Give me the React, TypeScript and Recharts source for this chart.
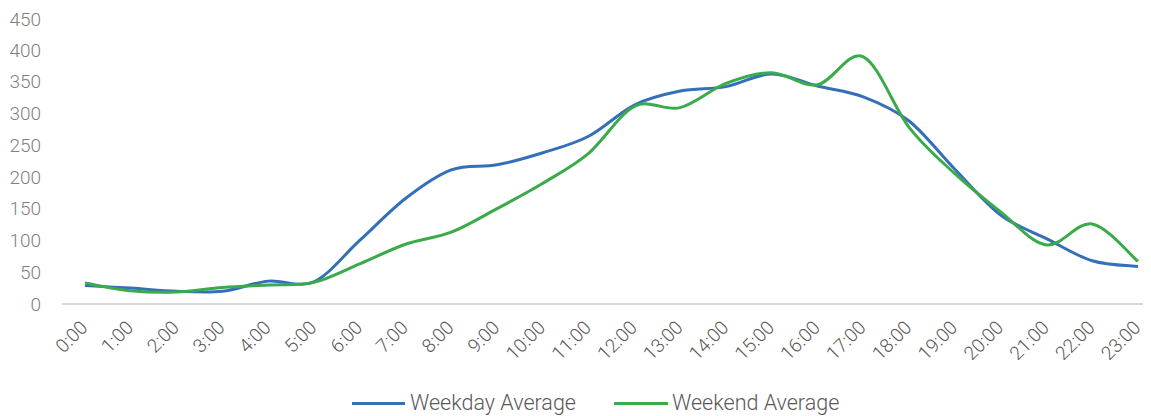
import React from "react";
import { LineChart, Line, XAxis, YAxis, Legend } from "recharts";

const hours = [
  "0:00", "1:00", "2:00", "3:00", "4:00", "5:00", "6:00", "7:00", "8:00", "9:00", "10:00", "11:00",
  "12:00", "13:00", "14:00", "15:00", "16:00", "17:00", "18:00", "19:00", "20:00", "21:00", "22:00", "23:00",
];
const weekdayAverage = [29, 25, 20, 20, 36, 35, 100, 166, 211, 219, 238, 264, 313, 335, 342, 362, 343, 326, 288, 212, 140, 103, 68, 59];
const weekendAverage = [33, 21, 19, 26, 30, 34, 63, 94, 113, 150, 190, 237, 311, 309, 347, 364, 345, 389, 278, 205, 145, 93, 126, 67];
const yTicks = [0, 50, 100, 150, 200, 250, 300, 350, 400, 450];

const BLUE = "#3470BA";
const GREEN = "#3BAA4B";
const FONT = "Roboto, 'Noto Sans', sans-serif";

const data = hours.map((h, i) => ({ hour: h, weekday: weekdayAverage[i], weekend: weekendAverage[i] }));

// Excel-like smooth line (uniform Catmull-Rom as cubic Bezier)
const excelCurve = (context: any) => {
  let pts: number[][] = [];
  return {
    areaStart() {},
    areaEnd() {},
    lineStart() {
      pts = [];
    },
    point(x: number, y: number) {
      pts.push([+x, +y]);
    },
    lineEnd() {
      const n = pts.length;
      if (!n) return;
      context.moveTo(pts[0][0], pts[0][1]);
      for (let i = 0; i < n - 1; i++) {
        const p0 = pts[Math.max(0, i - 1)];
        const p1 = pts[i];
        const p2 = pts[i + 1];
        const p3 = pts[Math.min(n - 1, i + 2)];
        context.bezierCurveTo(
          p1[0] + (p2[0] - p0[0]) / 6,
          p1[1] + (p2[1] - p0[1]) / 6,
          p2[0] - (p3[0] - p1[0]) / 6,
          p2[1] - (p3[1] - p1[1]) / 6,
          p2[0],
          p2[1]
        );
      }
    },
  };
};

const XTick = (props: any) => {
  const { x, y, payload } = props;
  return (
    <g transform={`translate(${x - 1},${y + 12})`}>
      <text
        x={0}
        y={0}
        dy="0.35em"
        textAnchor="end"
        transform="rotate(-45)"
        fill="#595959"
        fontFamily={FONT}
        fontWeight={300}
        fontSize={19}
      >
        {payload.value}
      </text>
    </g>
  );
};

const LegendContent = () => (
  <div
    style={{
      position: "relative",
      height: 30,
      fontFamily: FONT,
      fontWeight: 300,
      fontSize: 21.5,
      color: "#595959",
    }}
  >
    <div style={{ position: "absolute", left: 344, top: 16, width: 53, height: 3, background: BLUE }} />
    <div style={{ position: "absolute", left: 402, top: 3, lineHeight: "28px", whiteSpace: "nowrap" }}>Weekday Average</div>
    <div style={{ position: "absolute", left: 606, top: 16, width: 54, height: 3, background: GREEN }} />
    <div style={{ position: "absolute", left: 664, top: 3, lineHeight: "28px", whiteSpace: "nowrap" }}>Weekend Average</div>
  </div>
);

export default function App() {
  return (
    <LineChart width={1153} height={408} data={data} margin={{ top: 10, right: 0, left: 0, bottom: 0 }}>
      <XAxis
        dataKey="hour"
        interval={0}
        height={82}
        padding={{ left: 23, right: 23 }}
        tickLine={false}
        axisLine={{ stroke: "#d9d9d9", strokeWidth: 2 }}
        tick={<XTick />}
      />
      <YAxis
        domain={[0, 450]}
        ticks={yTicks}
        width={54}
        axisLine={false}
        tickLine={false}
        tickMargin={15}
        tick={{ fill: "#7f7f7f", fontFamily: FONT, fontWeight: 300, fontSize: 19 }}
      />
      <Legend
        verticalAlign="bottom"
        height={30}
        content={<LegendContent />}
        wrapperStyle={{ left: 0, width: 1153, bottom: 0 }}
      />
      <Line
        dataKey="weekday"
        name="Weekday Average"
        type={excelCurve as any}
        stroke={BLUE}
        strokeWidth={3}
        dot={false}
        activeDot={false}
        isAnimationActive={false}
      />
      <Line
        dataKey="weekend"
        name="Weekend Average"
        type={excelCurve as any}
        stroke={GREEN}
        strokeWidth={3}
        dot={false}
        activeDot={false}
        isAnimationActive={false}
      />
    </LineChart>
  );
}
